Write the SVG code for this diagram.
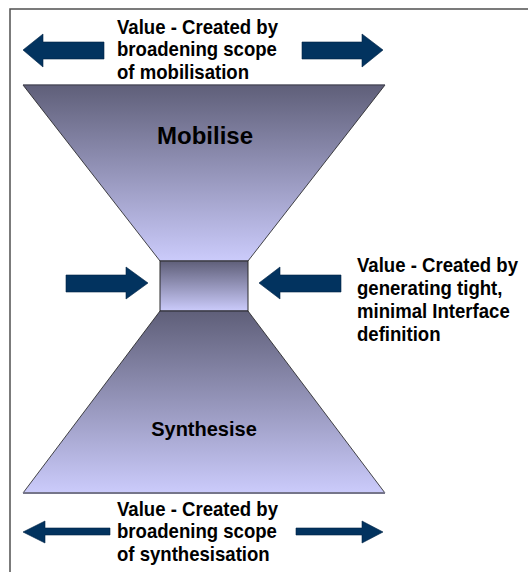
<svg xmlns="http://www.w3.org/2000/svg" width="528" height="572" viewBox="0 0 528 572">
  <defs>
    <linearGradient id="shade" x1="0" y1="0" x2="0" y2="1">
      <stop offset="0" stop-color="#5f5f79"/>
      <stop offset="1" stop-color="#cbcbfb"/>
    </linearGradient>
    <style>
      .frame { fill: none; stroke: #505050; stroke-width: 1.5; }
      .funnel { fill: url(#shade); stroke: #1a1a1a; stroke-width: 0.8; }
      .neck { fill: url(#shade); stroke: #2a2a2a; stroke-width: 1; }
      .arrow { fill: #02335f; stroke: #012344; stroke-width: 0.6; }
      .label { font-family: "Liberation Sans", Arial, sans-serif; font-weight: bold; fill: #000; }
      .note { font-size: 21px; }
      .stage { text-anchor: middle; }
    </style>
  </defs>

  <rect width="528" height="572" fill="#ffffff"/>
  <!-- outer frame, running off the right and bottom edges -->
  <rect class="frame" x="10" y="9" width="540" height="580"/>

  <!-- upper funnel: Mobilise -->
  <g id="mobilise">
    <polygon class="funnel" points="23,85 385,85 248,261 160,261"/>
    <line x1="23" y1="85" x2="385" y2="85" stroke="#5a5a70" stroke-width="1"/>
    <text class="label stage" x="205" y="144" font-size="24">Mobilise</text>
  </g>

  <!-- narrow interface between the two funnels -->
  <g id="interface">
    <rect class="neck" x="160" y="261" width="88" height="50"/>
  </g>

  <!-- lower funnel: Synthesise -->
  <g id="synthesise">
    <polygon class="funnel" points="160,311 248,311 385,493 23,493"/>
    <line x1="23" y1="493" x2="385" y2="493" stroke="#75758a" stroke-width="2"/>
    <text class="label stage" x="204" y="436" font-size="20">Synthesise</text>
  </g>

  <!-- value labels -->
  <g id="label-mobilisation">
    <text class="label note" transform="translate(117,0) scale(0.885,1)">
      <tspan x="0" y="34">Value - Created by</tspan>
      <tspan x="0" y="56.5">broadening scope</tspan>
      <tspan x="0" y="79">of mobilisation</tspan>
    </text>
  </g>
  <g id="label-interface">
    <text class="label note" transform="translate(357,0) scale(0.885,1)">
      <tspan x="0" y="272">Value - Created by</tspan>
      <tspan x="0" y="295">generating tight,</tspan>
      <tspan x="0" y="318">minimal Interface</tspan>
      <tspan x="0" y="341">definition</tspan>
    </text>
  </g>
  <g id="label-synthesisation">
    <text class="label note" transform="translate(117,0) scale(0.885,1)">
      <tspan x="0" y="516">Value - Created by</tspan>
      <tspan x="0" y="538.5">broadening scope</tspan>
      <tspan x="0" y="561">of synthesisation</tspan>
    </text>
  </g>

  <!-- block arrows -->
  <g id="connectors">
    <!-- top: widening mobilisation -->
    <polygon class="arrow" points="23,50 43,34 43,42 104,42 104,59 43,59 43,67"/>
    <polygon class="arrow" points="383,50 362,34 362,42 302,42 302,59 362,59 362,67"/>
    <!-- middle: squeezing the interface -->
    <polygon class="arrow" points="148,283 126,267 126,275 66,275 66,292 126,292 126,299"/>
    <polygon class="arrow" points="259,283 280,267 280,275 341,275 341,292 280,292 280,299"/>
    <!-- bottom: widening synthesisation -->
    <polygon class="arrow" points="23,532 45,521 45,528 110,528 110,535 45,535 45,543"/>
    <polygon class="arrow" points="383,532 362,521 362,528 296,528 296,535 362,535 362,543"/>
  </g>
</svg>
